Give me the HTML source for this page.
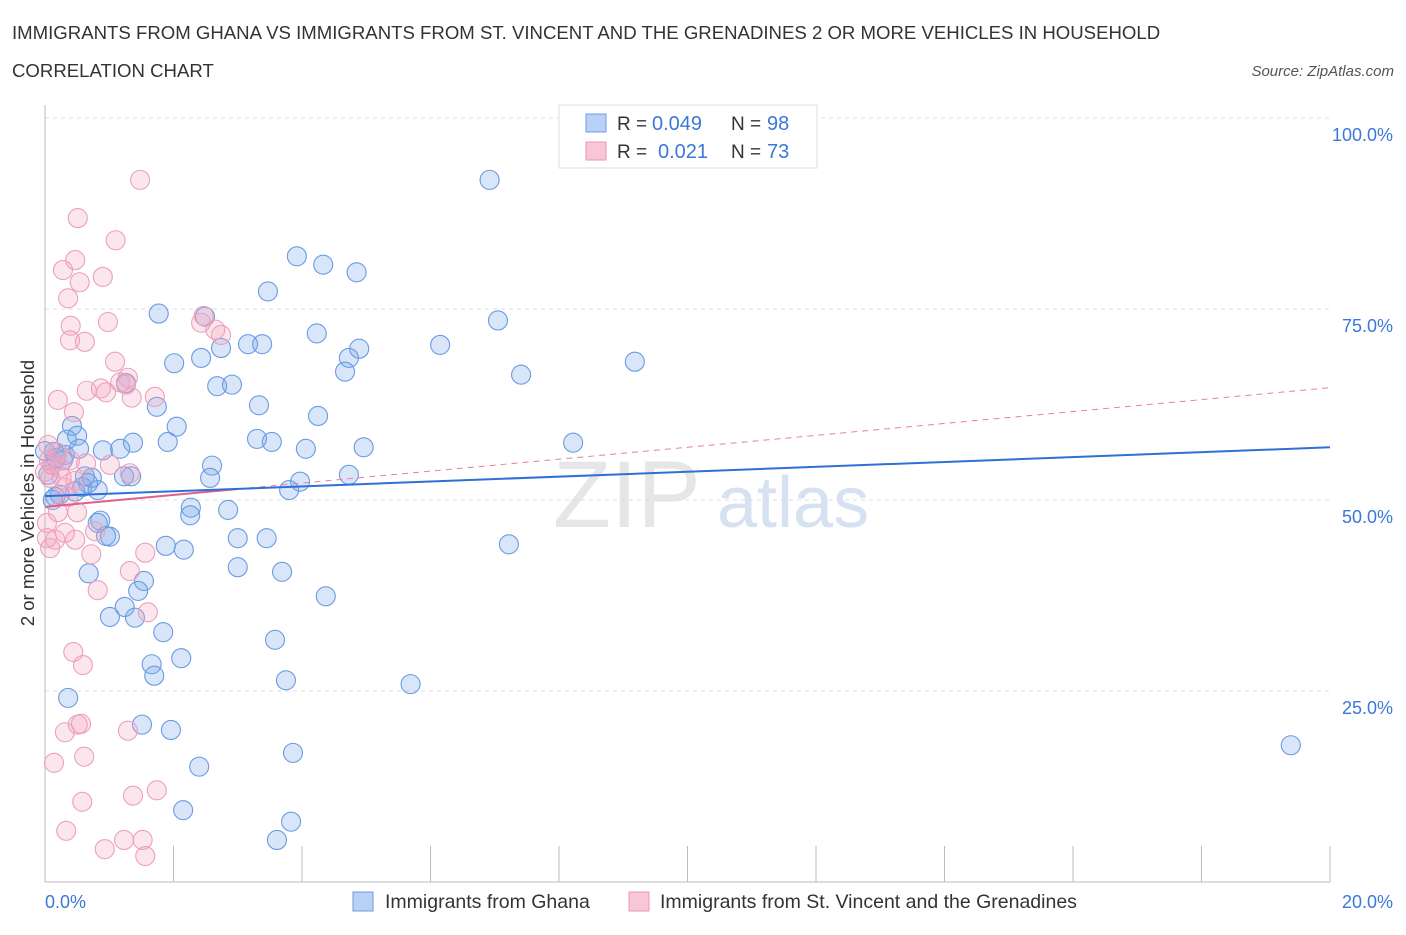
<!DOCTYPE html>
<html><head><meta charset="utf-8"><style>
body{margin:0;background:#fff;font-family:"Liberation Sans",sans-serif;}
svg text{font-family:"Liberation Sans",sans-serif;}
</style></head><body>
<svg id="chart" width="1406" height="930">
<text x="12" y="39" font-size="18.6" fill="#333">IMMIGRANTS FROM GHANA VS IMMIGRANTS FROM ST. VINCENT AND THE GRENADINES 2 OR MORE VEHICLES IN HOUSEHOLD</text>
<text x="12" y="77" font-size="18.6" fill="#333">CORRELATION CHART</text>
<text x="1394" y="76" font-size="15" font-style="italic" fill="#555" text-anchor="end">Source: ZipAtlas.com</text>
<g>
<text x="553" y="527" font-size="95" font-family="Liberation Serif" fill="#e6e6e6">ZIP</text>
<text x="717" y="527" font-size="72" fill="#d6e2f2">atlas</text>
</g>
<g id="grid"></g>
<g id="axes"></g>
<g id="pts"></g>
<g id="trend"></g>
<g>
<rect x="559" y="105" width="258" height="63" fill="#fff" stroke="#ddd"/>
<rect x="586" y="114" width="20" height="18" fill="#b9d1f5" stroke="#6c9be0"/>
<rect x="586" y="142" width="20" height="18" fill="#f8c6d6" stroke="#ea98b3"/>
<text x="617" y="130" font-size="19" fill="#333">R =</text>
<text x="652" y="130" font-size="20" fill="#3b78d8">0.049</text>
<text x="731" y="130" font-size="19" fill="#333">N =</text>
<text x="767" y="130" font-size="20" fill="#3b78d8">98</text>
<text x="617" y="158" font-size="19" fill="#333">R =</text>
<text x="658" y="158" font-size="20" fill="#3b78d8">0.021</text>
<text x="731" y="158" font-size="19" fill="#333">N =</text>
<text x="767" y="158" font-size="20" fill="#3b78d8">73</text>
</g>
<g>
<rect x="353" y="892" width="20" height="19" fill="#b9d1f5" stroke="#6c9be0"/>
<text x="385" y="908" font-size="19.5" fill="#333">Immigrants from Ghana</text>
<rect x="629" y="892" width="20" height="19" fill="#f8c6d6" stroke="#ea98b3"/>
<text x="660" y="908" font-size="19.5" fill="#333">Immigrants from St. Vincent and the Grenadines</text>
</g>
<text transform="translate(34,493) rotate(-90)" font-size="18.5" fill="#333" text-anchor="middle">2 or more Vehicles in Household</text>
</svg>
<script>
const yTicks=[100,75,50,25];
const xTickCount=10;
const ghanaX=[6.92,3.92,4.33,4.85,3.47,1.77,7.05,2.49,4.23,6.15,3.16,3.38,4.89,2.74,4.73,2.43,2.01,9.18,4.67,7.41,2.68,2.91,1.26,3.33,1.74,4.25,2.05,0.42,0.50,3.30,3.53,1.91,8.22,4.96,4.06,1.37,0.90,1.17,0.14,0.53,0.28,0.11,2.60,0.73,1.23,1.34,4.73,2.57,3.97,3.80,0.58,0.82,0.23,0.16,0.47,2.27,2.26,2.85,0.82,1.88,2.16,1.01,0.95,3.00,3.45,7.22,0.68,3.00,3.69,1.54,1.45,4.37,1.24,1.01,1.40,1.84,3.58,1.66,2.12,1.70,3.75,5.69,0.36,1.51,1.96,3.86,2.40,2.15,3.83,3.61,19.39,0.86,0.31,0.17,0.05,0.12,0.0,0.67,0.34,0.62];
const ghanaY=[91.9,81.9,80.8,79.8,77.3,74.4,73.5,74.0,71.8,70.3,70.4,70.4,69.8,69.9,68.6,68.6,67.9,68.1,66.8,66.4,64.9,65.1,65.3,62.4,62.2,61.0,59.6,59.7,58.4,58.0,57.6,57.6,57.5,56.9,56.7,57.5,56.5,56.7,56.3,56.7,55.2,54.6,54.5,52.9,53.1,53.1,53.3,52.9,52.4,51.3,51.7,51.3,50.7,50.4,51.1,49.0,48.0,48.7,47.0,44.0,43.5,45.2,45.3,45.0,45.0,44.2,40.4,41.2,40.6,39.4,38.1,37.4,36.0,34.7,34.6,32.7,31.7,28.5,29.3,27.0,26.4,25.9,24.1,20.6,19.9,16.9,15.1,9.4,7.9,5.5,17.9,47.3,55.9,55.5,53.3,50.0,56.4,52.2,57.9,53.1];
const vincX=[1.48,0.51,1.10,0.47,0.28,0.90,0.54,0.36,2.47,0.98,0.40,2.43,0.39,0.62,2.74,1.09,1.17,0.95,1.35,1.71,0.20,0.65,0.45,0.87,1.26,0.19,0.06,0.23,0.64,1.32,0.0,0.31,0.08,0.36,0.50,0.20,0.03,0.78,0.16,0.03,0.47,0.08,0.72,1.56,1.32,0.82,1.60,0.44,0.59,0.31,0.56,0.51,0.14,0.61,1.29,1.37,1.74,0.58,0.33,0.93,1.23,1.52,1.56,0.05,0.11,0.31,0.47,0.39,1.29,2.65,1.01,0.26];
const vincY=[91.9,86.9,84.0,81.4,80.1,79.2,78.5,76.4,74.1,73.3,72.8,73.2,70.9,70.7,71.6,68.1,65.4,64.1,63.4,63.5,63.1,64.3,61.5,64.6,65.1,56.2,55.2,54.2,54.8,53.5,53.7,51.6,52.9,50.4,48.4,48.4,47.0,45.9,44.8,45.0,44.8,43.7,42.9,43.1,40.7,38.2,35.3,30.1,28.4,19.6,20.7,20.6,15.6,16.4,19.8,11.3,12.0,10.5,6.7,4.3,5.5,5.5,3.4,57.2,54.6,45.7,52.5,55.2,66.0,72.3,54.6,53.0];
const ghanaTrend=[50.5,56.9];
const vincTrend=[49.1,64.7];
const vincSolidEnd=3.0;

const NS="http://www.w3.org/2000/svg";
const X=v=>45+v/20*1285;
const Y=v=>882-v*7.64;
function mk(tag,parent,attrs){const e=document.createElementNS(NS,tag);for(const k in attrs)e.setAttribute(k,attrs[k]);document.getElementById(parent).appendChild(e);return e;}
yTicks.forEach(t=>{
  const l=mk('line','grid',{x1:45,x2:1330,y1:Y(t),y2:Y(t),stroke:'#ddd','stroke-dasharray':'4,4'});
  
  
  const tx=mk('text','grid',{x:1393,y:Y(t)+23,'font-size':18,fill:'#3b78d8','text-anchor':'end'});
  tx.textContent=t.toFixed(1)+'%';
  
  
});
const ax=mk('line','axes',{x1:45,x2:45,y1:105,y2:882,stroke:'#bbb'});


const bx=mk('line','axes',{x1:45,x2:1330,y1:882,y2:882,stroke:'#bbb'});


for(let i=0;i<=xTickCount;i++){
  const v=i*20/xTickCount;
  const t=mk('line','axes',{x1:X(v),x2:X(v),y1:846,y2:882,stroke:'#bbb'});
  
  
}
const xl0=mk('text','axes',{x:45,y:908,'font-size':18,fill:'#3b78d8'});xl0.textContent='0.0%';


const xl1=mk('text','axes',{x:1393,y:908,'font-size':18,fill:'#3b78d8','text-anchor':'end'});xl1.textContent='20.0%';


ghanaX.forEach((x,i)=>{
  const c=mk('circle','pts',{cx:X(x),cy:Y(ghanaY[i]),r:9.5,fill:'rgba(120,165,235,0.28)',stroke:'#6a9be2','stroke-width':1.1});
  
  
});
vincX.forEach((x,i)=>{
  const c=mk('circle','pts',{cx:X(x),cy:Y(vincY[i]),r:9.5,fill:'rgba(245,165,195,0.28)',stroke:'#eda0b9','stroke-width':1.1});
  
  
});
const vl=(v)=>vincTrend[0]+(vincTrend[1]-vincTrend[0])*v/20;
const pd=mk('line','trend',{x1:X(vincSolidEnd),y1:Y(vl(vincSolidEnd)),x2:X(20),y2:Y(vincTrend[1]),stroke:'#e87fa0','stroke-width':1,'stroke-dasharray':'6,5'});


const ps=mk('line','trend',{x1:X(0),y1:Y(vincTrend[0]),x2:X(vincSolidEnd),y2:Y(vl(vincSolidEnd)),stroke:'#e0608a','stroke-width':2});


const bl=mk('line','trend',{x1:X(0),y1:Y(ghanaTrend[0]),x2:X(20),y2:Y(ghanaTrend[1]),stroke:'#2f6fd6','stroke-width':2});


</script>
</body></html>
